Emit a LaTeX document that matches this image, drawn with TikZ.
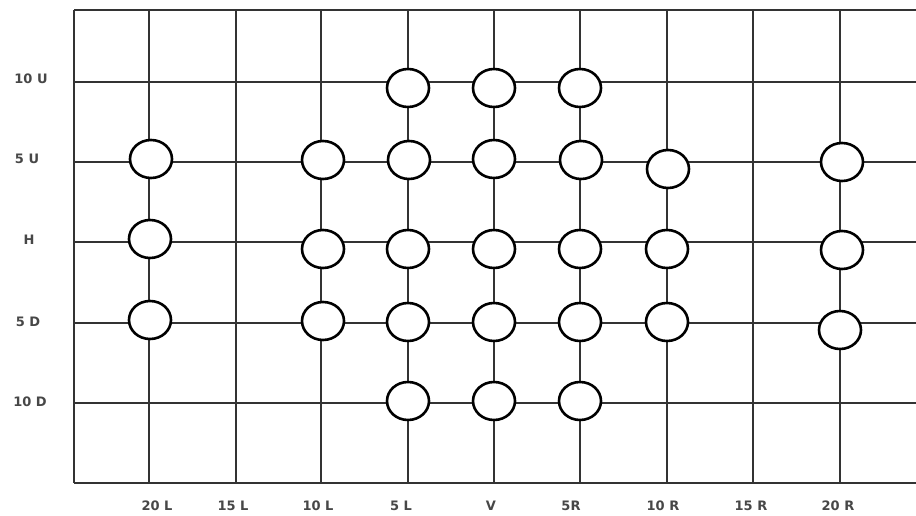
\documentclass[tikz,border=0pt]{standalone}
\usepackage{fontspec}
\setmainfont{DejaVu Sans}
\begin{document}
\begin{tikzpicture}[x=1pt,y=-1pt,
  gridline/.style={line width=1.1pt,draw=black!80},
  lab/.style={font=\fontsize{13}{15}\selectfont\bfseries,text=black!72}]
\useasboundingbox (0,0) rectangle (916,516);
\fill[white] (0,0) rectangle (916,516);
% columns
\def\xs{{149,236,321,408,494,580,667,753,840}}
\def\ys{{82,162,242,323,403}}
% frame lines
\coordinate (tl) at (74,10);
\coordinate (bl) at (74,483);
\draw[gridline] (tl) -- (916,10);
\draw[gridline] (bl) -- (916,483);
\draw[gridline] (tl) -- (bl);
\foreach \i in {0,...,8}{
  \pgfmathsetmacro\xx{\xs[\i]}
  \draw[gridline] (\xx,10) -- (\xx,483);
}
\foreach \j in {0,...,4}{
  \pgfmathsetmacro\yy{\ys[\j]}
  \draw[gridline] (74,\yy) -- (916,\yy);
}
% row labels
\node[lab] (l10u) at (31,79) {10 U};
\node[lab] (l5u) at (27,159) {5 U};
\node[lab] (lh) at (29,240) {H};
\node[lab] (l5d) at (28,322) {5 D};
\node[lab] (l10d) at (30,402) {10 D};
% column labels
\node[lab] (c20l) at (157,506) {20 L};
\node[lab] (c15l) at (233,506) {15 L};
\node[lab] (c10l) at (318,506) {10 L};
\node[lab] (c5l) at (401,506) {5 L};
\node[lab] (cv) at (491,506) {V};
\node[lab] (c5r) at (571,506) {5R};
\node[lab] (c10r) at (663,506) {10 R};
\node[lab] (c15r) at (751,506) {15 R};
\node[lab] (c20r) at (838,506) {20 R};
% rings
\newcommand\ring[3]{\draw[draw=black,line width=2.6pt,fill=white] (#2,#3) ellipse [x radius=21pt,y radius=19pt] node (#1) {};}
\ring{a1}{408}{88}\ring{a2}{494}{88}\ring{a3}{580}{88}
\ring{b1}{151}{159}\ring{b2}{323}{160}\ring{b3}{409}{160}\ring{b4}{494}{159}\ring{b5}{581}{160}\ring{b6}{668}{169}\ring{b7}{842}{162}
\ring{c1}{150}{239}\ring{c2}{323}{249}\ring{c3}{408}{249}\ring{c4}{494}{249}\ring{c5}{580}{249}\ring{c6}{667}{249}\ring{c7}{842}{250}
\ring{d1}{150}{320}\ring{d2}{323}{321}\ring{d3}{408}{322}\ring{d4}{494}{322}\ring{d5}{580}{322}\ring{d6}{667}{322}\ring{d7}{840}{330}
\ring{e1}{408}{401}\ring{e2}{494}{401}\ring{e3}{580}{401}
\end{tikzpicture}
\end{document}
